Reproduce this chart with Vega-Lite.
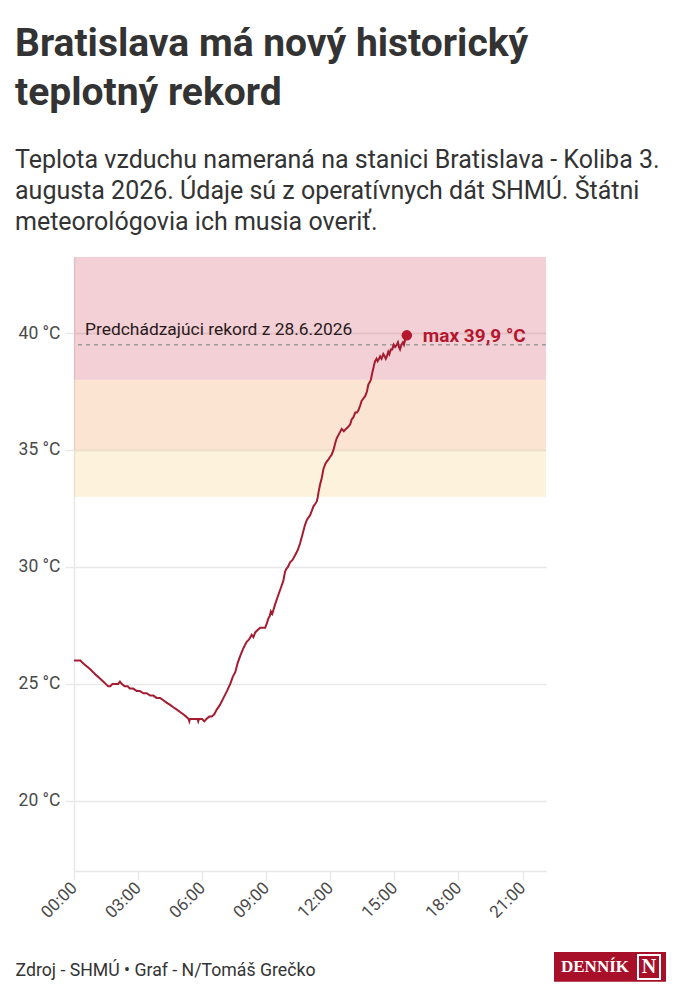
{
  "$schema": "https://vega.github.io/schema/vega-lite/v6.json",
  "width": 472,
  "height": 614,
  "autosize": {"type": "none"},
  "padding": {"left": 74, "top": 257, "right": 134, "bottom": 129},
  "title": {
    "text": ["Bratislava má nový historický", "teplotný rekord"],
    "subtitle": [
      "Teplota vzduchu nameraná na stanici Bratislava - Koliba 3.",
      "augusta 2026. Údaje sú z operatívnych dát SHMÚ. Štátni",
      "meteorológovia ich musia overiť."
    ],
    "anchor": "start",
    "frame": "group",
    "dx": -59,
    "offset": 22,
    "font": "Roboto",
    "fontSize": 39,
    "fontWeight": "bold",
    "lineHeight": 49,
    "color": "#333333",
    "subtitleFont": "Roboto",
    "subtitleFontSize": 25,
    "subtitleLineHeight": 31,
    "subtitleColor": "#333333",
    "subtitlePadding": 35
  },
  "datasets": {
    "mereni": [
      {"cas": "2026-08-03T00:00Z", "teplota": 26.0},
      {"cas": "2026-08-03T00:10Z", "teplota": 26.0},
      {"cas": "2026-08-03T00:18Z", "teplota": 26.0},
      {"cas": "2026-08-03T00:24Z", "teplota": 25.9},
      {"cas": "2026-08-03T00:32Z", "teplota": 25.8},
      {"cas": "2026-08-03T00:40Z", "teplota": 25.7},
      {"cas": "2026-08-03T00:47Z", "teplota": 25.6},
      {"cas": "2026-08-03T00:54Z", "teplota": 25.5},
      {"cas": "2026-08-03T01:00Z", "teplota": 25.4},
      {"cas": "2026-08-03T01:08Z", "teplota": 25.3},
      {"cas": "2026-08-03T01:15Z", "teplota": 25.2},
      {"cas": "2026-08-03T01:22Z", "teplota": 25.1},
      {"cas": "2026-08-03T01:29Z", "teplota": 25.0},
      {"cas": "2026-08-03T01:36Z", "teplota": 24.9},
      {"cas": "2026-08-03T01:42Z", "teplota": 24.9},
      {"cas": "2026-08-03T01:48Z", "teplota": 25.0},
      {"cas": "2026-08-03T01:56Z", "teplota": 25.0},
      {"cas": "2026-08-03T02:04Z", "teplota": 25.0},
      {"cas": "2026-08-03T02:09Z", "teplota": 25.1},
      {"cas": "2026-08-03T02:14Z", "teplota": 25.0},
      {"cas": "2026-08-03T02:22Z", "teplota": 24.9},
      {"cas": "2026-08-03T02:31Z", "teplota": 24.9},
      {"cas": "2026-08-03T02:37Z", "teplota": 24.8},
      {"cas": "2026-08-03T02:46Z", "teplota": 24.8},
      {"cas": "2026-08-03T02:56Z", "teplota": 24.7},
      {"cas": "2026-08-03T03:05Z", "teplota": 24.7},
      {"cas": "2026-08-03T03:15Z", "teplota": 24.6},
      {"cas": "2026-08-03T03:24Z", "teplota": 24.6},
      {"cas": "2026-08-03T03:34Z", "teplota": 24.5},
      {"cas": "2026-08-03T03:43Z", "teplota": 24.5},
      {"cas": "2026-08-03T03:52Z", "teplota": 24.4},
      {"cas": "2026-08-03T04:02Z", "teplota": 24.4},
      {"cas": "2026-08-03T04:11Z", "teplota": 24.3},
      {"cas": "2026-08-03T04:20Z", "teplota": 24.2},
      {"cas": "2026-08-03T04:30Z", "teplota": 24.1},
      {"cas": "2026-08-03T04:39Z", "teplota": 24.0},
      {"cas": "2026-08-03T04:49Z", "teplota": 23.9},
      {"cas": "2026-08-03T04:58Z", "teplota": 23.8},
      {"cas": "2026-08-03T05:07Z", "teplota": 23.7},
      {"cas": "2026-08-03T05:15Z", "teplota": 23.6},
      {"cas": "2026-08-03T05:22Z", "teplota": 23.5},
      {"cas": "2026-08-03T05:24Z", "teplota": 23.4},
      {"cas": "2026-08-03T05:26Z", "teplota": 23.5},
      {"cas": "2026-08-03T05:35Z", "teplota": 23.5},
      {"cas": "2026-08-03T05:47Z", "teplota": 23.5},
      {"cas": "2026-08-03T05:49Z", "teplota": 23.4},
      {"cas": "2026-08-03T05:51Z", "teplota": 23.5},
      {"cas": "2026-08-03T06:00Z", "teplota": 23.5},
      {"cas": "2026-08-03T06:06Z", "teplota": 23.4},
      {"cas": "2026-08-03T06:12Z", "teplota": 23.5},
      {"cas": "2026-08-03T06:20Z", "teplota": 23.6},
      {"cas": "2026-08-03T06:27Z", "teplota": 23.6},
      {"cas": "2026-08-03T06:34Z", "teplota": 23.7},
      {"cas": "2026-08-03T06:41Z", "teplota": 23.9},
      {"cas": "2026-08-03T06:50Z", "teplota": 24.1},
      {"cas": "2026-08-03T07:00Z", "teplota": 24.4},
      {"cas": "2026-08-03T07:10Z", "teplota": 24.7},
      {"cas": "2026-08-03T07:19Z", "teplota": 25.0},
      {"cas": "2026-08-03T07:26Z", "teplota": 25.3},
      {"cas": "2026-08-03T07:33Z", "teplota": 25.5},
      {"cas": "2026-08-03T07:40Z", "teplota": 25.9},
      {"cas": "2026-08-03T07:47Z", "teplota": 26.2},
      {"cas": "2026-08-03T07:55Z", "teplota": 26.5},
      {"cas": "2026-08-03T08:05Z", "teplota": 26.8},
      {"cas": "2026-08-03T08:12Z", "teplota": 26.9},
      {"cas": "2026-08-03T08:19Z", "teplota": 27.1},
      {"cas": "2026-08-03T08:24Z", "teplota": 27.0},
      {"cas": "2026-08-03T08:29Z", "teplota": 27.2},
      {"cas": "2026-08-03T08:36Z", "teplota": 27.3},
      {"cas": "2026-08-03T08:43Z", "teplota": 27.4},
      {"cas": "2026-08-03T08:50Z", "teplota": 27.4},
      {"cas": "2026-08-03T08:57Z", "teplota": 27.4},
      {"cas": "2026-08-03T09:02Z", "teplota": 27.6},
      {"cas": "2026-08-03T09:06Z", "teplota": 27.8},
      {"cas": "2026-08-03T09:10Z", "teplota": 27.9},
      {"cas": "2026-08-03T09:13Z", "teplota": 28.1},
      {"cas": "2026-08-03T09:17Z", "teplota": 28.0},
      {"cas": "2026-08-03T09:25Z", "teplota": 28.4},
      {"cas": "2026-08-03T09:34Z", "teplota": 28.8},
      {"cas": "2026-08-03T09:41Z", "teplota": 29.1},
      {"cas": "2026-08-03T09:48Z", "teplota": 29.4},
      {"cas": "2026-08-03T09:53Z", "teplota": 29.8},
      {"cas": "2026-08-03T09:56Z", "teplota": 29.9},
      {"cas": "2026-08-03T10:01Z", "teplota": 30.0},
      {"cas": "2026-08-03T10:07Z", "teplota": 30.2},
      {"cas": "2026-08-03T10:14Z", "teplota": 30.3},
      {"cas": "2026-08-03T10:21Z", "teplota": 30.5},
      {"cas": "2026-08-03T10:28Z", "teplota": 30.7},
      {"cas": "2026-08-03T10:35Z", "teplota": 31.0},
      {"cas": "2026-08-03T10:42Z", "teplota": 31.4},
      {"cas": "2026-08-03T10:49Z", "teplota": 31.8},
      {"cas": "2026-08-03T10:54Z", "teplota": 32.0},
      {"cas": "2026-08-03T10:58Z", "teplota": 32.1},
      {"cas": "2026-08-03T11:03Z", "teplota": 32.2},
      {"cas": "2026-08-03T11:08Z", "teplota": 32.4},
      {"cas": "2026-08-03T11:13Z", "teplota": 32.6},
      {"cas": "2026-08-03T11:18Z", "teplota": 32.7},
      {"cas": "2026-08-03T11:22Z", "teplota": 32.8},
      {"cas": "2026-08-03T11:25Z", "teplota": 33.0},
      {"cas": "2026-08-03T11:27Z", "teplota": 33.2},
      {"cas": "2026-08-03T11:31Z", "teplota": 33.5},
      {"cas": "2026-08-03T11:36Z", "teplota": 33.8},
      {"cas": "2026-08-03T11:41Z", "teplota": 34.2},
      {"cas": "2026-08-03T11:46Z", "teplota": 34.4},
      {"cas": "2026-08-03T11:50Z", "teplota": 34.5},
      {"cas": "2026-08-03T11:55Z", "teplota": 34.6},
      {"cas": "2026-08-03T11:59Z", "teplota": 34.7},
      {"cas": "2026-08-03T12:04Z", "teplota": 34.8},
      {"cas": "2026-08-03T12:09Z", "teplota": 35.0},
      {"cas": "2026-08-03T12:14Z", "teplota": 35.3},
      {"cas": "2026-08-03T12:18Z", "teplota": 35.5},
      {"cas": "2026-08-03T12:25Z", "teplota": 35.7},
      {"cas": "2026-08-03T12:32Z", "teplota": 35.9},
      {"cas": "2026-08-03T12:38Z", "teplota": 35.8},
      {"cas": "2026-08-03T12:44Z", "teplota": 35.9},
      {"cas": "2026-08-03T12:51Z", "teplota": 36.0},
      {"cas": "2026-08-03T12:56Z", "teplota": 36.1},
      {"cas": "2026-08-03T13:00Z", "teplota": 36.3},
      {"cas": "2026-08-03T13:05Z", "teplota": 36.4},
      {"cas": "2026-08-03T13:10Z", "teplota": 36.6},
      {"cas": "2026-08-03T13:15Z", "teplota": 36.6},
      {"cas": "2026-08-03T13:19Z", "teplota": 36.7},
      {"cas": "2026-08-03T13:24Z", "teplota": 36.9},
      {"cas": "2026-08-03T13:28Z", "teplota": 37.1},
      {"cas": "2026-08-03T13:33Z", "teplota": 37.2},
      {"cas": "2026-08-03T13:38Z", "teplota": 37.3},
      {"cas": "2026-08-03T13:43Z", "teplota": 37.5},
      {"cas": "2026-08-03T13:47Z", "teplota": 37.8},
      {"cas": "2026-08-03T13:51Z", "teplota": 37.9},
      {"cas": "2026-08-03T13:54Z", "teplota": 38.0},
      {"cas": "2026-08-03T13:58Z", "teplota": 38.3},
      {"cas": "2026-08-03T14:01Z", "teplota": 38.5},
      {"cas": "2026-08-03T14:04Z", "teplota": 38.7},
      {"cas": "2026-08-03T14:06Z", "teplota": 38.8},
      {"cas": "2026-08-03T14:10Z", "teplota": 38.9},
      {"cas": "2026-08-03T14:13Z", "teplota": 38.8},
      {"cas": "2026-08-03T14:17Z", "teplota": 38.9},
      {"cas": "2026-08-03T14:20Z", "teplota": 39.0},
      {"cas": "2026-08-03T14:24Z", "teplota": 38.9},
      {"cas": "2026-08-03T14:29Z", "teplota": 39.1},
      {"cas": "2026-08-03T14:33Z", "teplota": 39.0},
      {"cas": "2026-08-03T14:36Z", "teplota": 38.9},
      {"cas": "2026-08-03T14:39Z", "teplota": 39.0},
      {"cas": "2026-08-03T14:43Z", "teplota": 39.2},
      {"cas": "2026-08-03T14:46Z", "teplota": 39.1},
      {"cas": "2026-08-03T14:50Z", "teplota": 39.3},
      {"cas": "2026-08-03T14:54Z", "teplota": 39.3},
      {"cas": "2026-08-03T14:58Z", "teplota": 39.5},
      {"cas": "2026-08-03T15:02Z", "teplota": 39.4},
      {"cas": "2026-08-03T15:07Z", "teplota": 39.5},
      {"cas": "2026-08-03T15:10Z", "teplota": 39.6},
      {"cas": "2026-08-03T15:13Z", "teplota": 39.4},
      {"cas": "2026-08-03T15:16Z", "teplota": 39.3},
      {"cas": "2026-08-03T15:20Z", "teplota": 39.5},
      {"cas": "2026-08-03T15:24Z", "teplota": 39.6},
      {"cas": "2026-08-03T15:27Z", "teplota": 39.5},
      {"cas": "2026-08-03T15:30Z", "teplota": 39.7},
      {"cas": "2026-08-03T15:35Z", "teplota": 39.9}
    ],
    "pasma": [
      {"od": 38, "do": 43.25, "farba": "#c0142f"},
      {"od": 35, "do": 38, "farba": "#ea7a1e"},
      {"od": 33, "do": 35, "farba": "#f5c04a"}
    ],
    "rekord": [
      {"popis": "Predchádzajúci rekord z 28.6.2026", "teplota": 39.5}
    ]
  },
  "layer": [
    {
      "data": {"name": "pasma"},
      "mark": {"type": "rect", "opacity": 0.2},
      "encoding": {
        "y": {"field": "od", "type": "quantitative"},
        "y2": {"field": "do"},
        "color": {"field": "farba", "type": "nominal", "scale": null}
      }
    },
    {
      "data": {"name": "rekord"},
      "mark": {"type": "rule", "color": "#9a9a9a", "strokeDash": [4, 4], "strokeWidth": 1.5},
      "encoding": {
        "y": {"field": "teplota", "type": "quantitative"}
      }
    },
    {
      "data": {"name": "mereni"},
      "mark": {"type": "line", "color": "#a51c30", "strokeWidth": 2},
      "encoding": {
        "x": {
          "field": "cas",
          "type": "temporal",
          "scale": {"type": "utc", "domain": [1785715200000, 1785794760000]},
          "axis": {
            "format": "%H:%M",
            "grid": false,
            "labelAngle": -45,
            "labelAlign": "right",
            "labelBaseline": "middle",
            "labelPadding": 5,
            "labelFontSize": 17,
            "title": "Zdroj - SHMÚ • Graf - N/Tomáš Grečko",
            "titleX": -59,
            "titleY": 104,
            "titleAlign": "left",
            "titleBaseline": "alphabetic",
            "titleFontWeight": "normal",
            "titleFontSize": 17.7,
            "titleColor": "#333333"
          }
        },
        "y": {
          "field": "teplota",
          "type": "quantitative",
          "scale": {"domain": [17, 43.25], "nice": false, "zero": false},
          "axis": {
            "values": [20, 25, 30, 35, 40],
            "labelExpr": "datum.value + ' °C'",
            "title": null,
            "labelPadding": 5
          }
        }
      }
    },
    {
      "data": {"name": "rekord"},
      "mark": {
        "type": "text",
        "align": "left",
        "baseline": "alphabetic",
        "dy": -10,
        "font": "Roboto",
        "fontSize": 17.4,
        "color": "#2a1a1d"
      },
      "encoding": {
        "x": {"datum": 1785717060000, "type": "temporal"},
        "y": {"field": "teplota", "type": "quantitative"},
        "text": {"field": "popis"}
      }
    },
    {
      "data": {"name": "mereni"},
      "transform": [
        {"joinaggregate": [{"op": "max", "field": "teplota", "as": "maxT"}]},
        {"filter": "datum.teplota === datum.maxT"}
      ],
      "encoding": {
        "x": {"field": "cas", "type": "temporal"},
        "y": {"field": "teplota", "type": "quantitative"}
      },
      "layer": [
        {"mark": {"type": "circle", "size": 110, "color": "#b5172f", "opacity": 1}},
        {
          "mark": {
            "type": "text",
            "align": "left",
            "baseline": "alphabetic",
            "dx": 16,
            "dy": 7,
            "font": "Roboto",
            "fontSize": 19,
            "fontWeight": "bold",
            "color": "#b5172f"
          },
          "encoding": {"text": {"value": "max 39,9 °C"}}
        }
      ]
    },
    {
      "data": {"values": [{}]},
      "mark": {"type": "rect", "color": "#a8102a", "clip": false},
      "encoding": {
        "x": {"datum": 1785796109000, "type": "temporal"},
        "x2": {"datum": 1785814987000},
        "y": {"datum": 13.54, "type": "quantitative"},
        "y2": {"datum": 12.26}
      }
    },
    {
      "data": {"values": [{}]},
      "mark": {"type": "text", "align": "left", "baseline": "middle", "color": "white", "font": "Liberation Serif", "fontWeight": "bold", "fontSize": 17, "clip": false},
      "encoding": {
        "x": {"datum": 1785797289000, "type": "temporal"},
        "y": {"datum": 12.88, "type": "quantitative"},
        "text": {"value": "DENNÍK"}
      }
    },
    {
      "data": {"values": [{}]},
      "mark": {"type": "rect", "filled": false, "stroke": "white", "strokeWidth": 2, "clip": false},
      "encoding": {
        "x": {"datum": 1785810267000, "type": "temporal"},
        "x2": {"datum": 1785813976000},
        "y": {"datum": 13.41, "type": "quantitative"},
        "y2": {"datum": 12.38}
      }
    },
    {
      "data": {"values": [{}]},
      "mark": {"type": "text", "align": "center", "baseline": "middle", "color": "white", "font": "Liberation Serif", "fontWeight": "bold", "fontSize": 20, "clip": false},
      "encoding": {
        "x": {"datum": 1785812122000, "type": "temporal"},
        "y": {"datum": 12.88, "type": "quantitative"},
        "text": {"value": "N"}
      }
    }
  ],
  "config": {
    "view": {"stroke": null},
    "axis": {
      "labelFont": "Roboto",
      "titleFont": "Roboto",
      "labelFontSize": 17.5,
      "labelColor": "#4a4a4a",
      "domainColor": "#e8e8e8",
      "domainWidth": 1.5,
      "tickColor": "#e8e8e8",
      "tickWidth": 1.5,
      "tickSize": 9,
      "gridColor": "#e8e8e8",
      "gridWidth": 1.5
    }
  }
}
